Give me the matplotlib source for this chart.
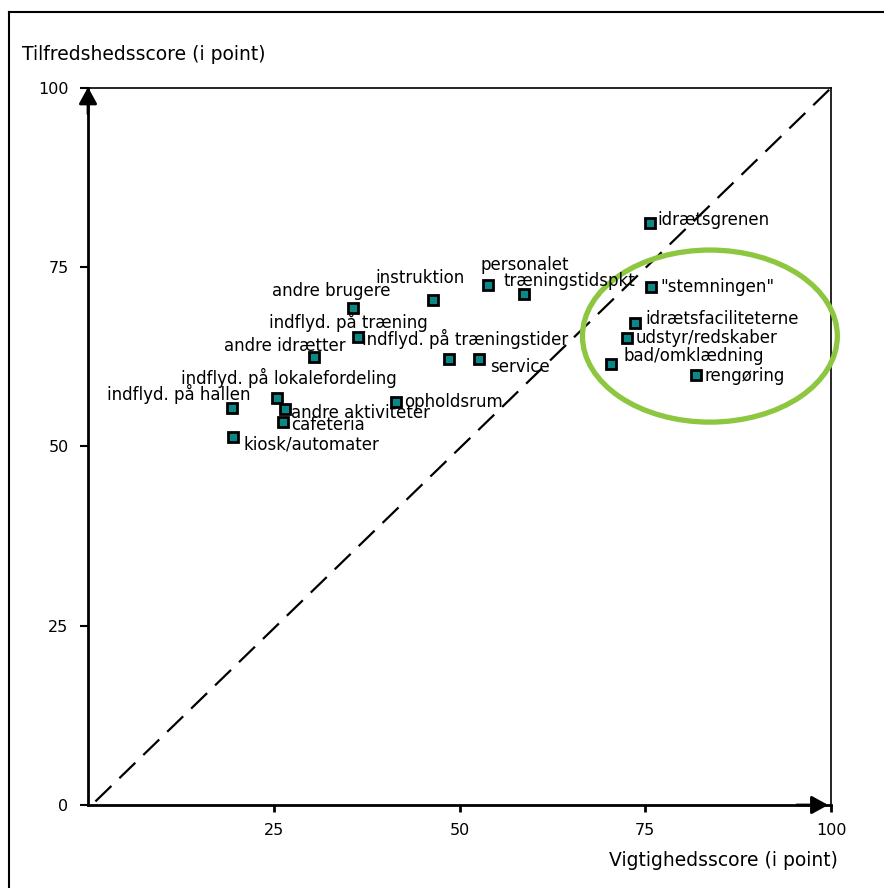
import matplotlib
matplotlib.use("Agg")
import matplotlib.pyplot as plt
from matplotlib.patches import Ellipse

# ---- data ----
labels = ["idrætsgrenen", "\"stemningen\"", "idrætsfaciliteterne", "udstyr/redskaber",
          "bad/omklædning", "rengøring", "personalet", "træningstidspkt", "instruktion",
          "andre brugere", "indflyd. på træning", "indflyd. på træningstider", "service",
          "andre idrætter", "indflyd. på lokalefordeling", "indflyd. på hallen",
          "andre aktiviteter", "cafeteria", "opholdsrum", "kiosk/automater"]
importance = [75.6, 75.8, 73.6, 72.5, 70.4, 81.8, 53.8, 58.7, 46.4,
              35.7, 36.3, 48.6, 52.6, 30.4, 25.4, 19.4, 26.5, 26.2, 41.5, 19.5]
satisfaction = [81.2, 72.2, 67.2, 65.1, 61.5, 60.0, 72.5, 71.3, 70.4,
                69.3, 65.3, 62.2, 62.2, 62.5, 56.8, 55.4, 55.2, 53.4, 56.2, 51.3]
xticks = [25, 50, 75, 100]
xtick_labels = ["25", "50", "75", "100"]
yticks = [0, 25, 50, 75, 100]
ytick_labels = ["0", "25", "50", "75", "100"]
xlabel = "Vigtighedsscore (i point)"
ylabel = "Tilfredshedsscore (i point)"

# label offsets in pixels (dx right, dy down) relative to marker -- layout only
offsets = [(8, -3), (9, 0), (11, -4), (9, 0), (12, -8), (9, 1), (-7, -20), (-21, -13),
           (-57, -22), (-81, -17), (-89, -15), (-87, -20), (11, 8), (-90, -11),
           (-96, -20), (-125, -14), (6, 4), (8, 3), (8, 0), (11, 7)]

W, H = 884, 888
fig = plt.figure(figsize=(W / 100, H / 100), dpi=100)
plt.rcParams['font.family'] = ['DejaVu Sans']

# outer frame (left and top)
fig.add_artist(plt.Line2D([9 / W, 9 / W], [0, 1 - 12 / H], color='black', lw=1.5,
                          transform=fig.transFigure))
fig.add_artist(plt.Line2D([9 / W, 1], [1 - 12 / H, 1 - 12 / H], color='black', lw=1.5,
                          transform=fig.transFigure))

left, right, bottom, top = 88 / W, 831 / W, 1 - 805 / H, 1 - 88 / H
ax = fig.add_axes([left, bottom, right - left, top - bottom])
ax.set_xlim(0, 100)
ax.set_ylim(0, 100)

for s in ['top', 'right']:
    ax.spines[s].set_linewidth(1.2)
for s in ['left', 'bottom']:
    ax.spines[s].set_linewidth(2.0)

ax.set_xticks(xticks)
ax.set_xticklabels(xtick_labels)
ax.set_yticks(yticks)
ax.set_yticklabels(ytick_labels)
ax.tick_params(axis='x', direction='out', length=5, width=2, labelsize=11.5, pad=8)
ax.tick_params(axis='y', direction='out', length=6, width=1.5, labelsize=11.5, pad=8)

# arrows on axes
ax.annotate("", xy=(0, 100.5), xytext=(0, 96), xycoords='data',
            arrowprops=dict(arrowstyle='-|>,head_length=1.0,head_width=0.55',
                            color='black', lw=2), annotation_clip=False)
ax.annotate("", xy=(100, 0), xytext=(95, 0), xycoords='data',
            arrowprops=dict(arrowstyle='-|>,head_length=1.0,head_width=0.55',
                            color='black', lw=2), annotation_clip=False)

# diagonal
ax.plot([1, 100], [0.5, 100], color='black', lw=1.6, linestyle=(0, (10, 5)))

# points
ax.plot(importance, satisfaction, linestyle='none', marker='s', markersize=7.5,
        markerfacecolor='#0b8787', markeredgecolor='black', markeredgewidth=2.0,
        zorder=4)

for lab, x, y, (dx, dy) in zip(labels, importance, satisfaction, offsets):
    ax.annotate(lab, xy=(x, y), xytext=(dx, -dy), textcoords='offset pixels',
                ha='left', va='center', fontsize=12, zorder=5)

# highlight ellipse
ax.add_patch(Ellipse((83.7, 65.4), 34.3, 24.0, fill=False, edgecolor='#8dc63f',
                     lw=3.8, clip_on=False, zorder=3))

fig.text(22 / W, 1 - 55 / H, ylabel, fontsize=13.5, ha='left', va='center')
fig.text(838 / W, 1 - 860 / H, xlabel, fontsize=13.5, ha='right', va='center')

fig.savefig("out.png", dpi=100)
